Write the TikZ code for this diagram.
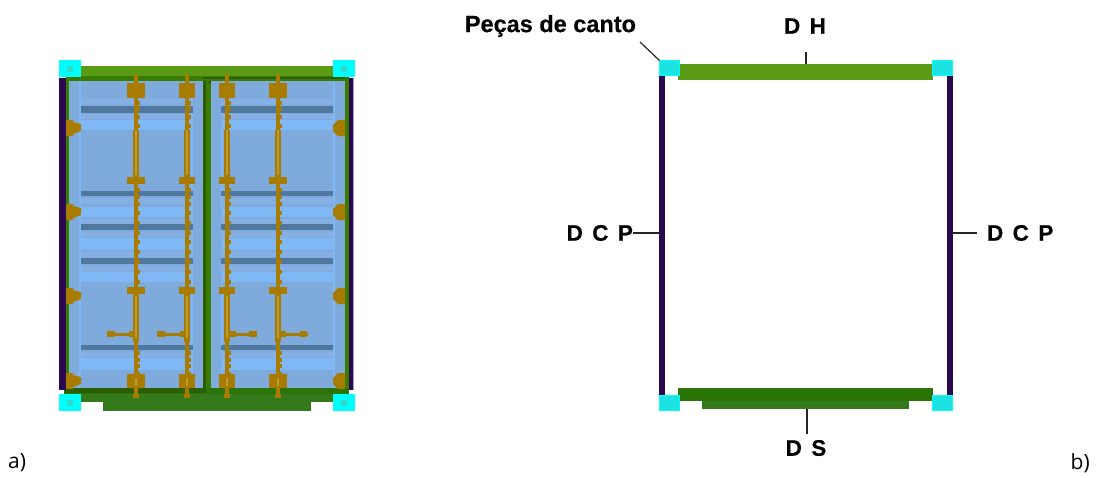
\documentclass[tikz,border=0pt]{standalone}
\usepackage{fontspec}
\setmainfont{Liberation Sans}
\newfontfamily\plainlabel{Open Sans}
\newfontfamily\heavylabel[FakeBold=0.5]{Liberation Sans Bold}
\definecolor{topgreen}{HTML}{5A9A14}
\definecolor{midgreen}{HTML}{3A7C00}
\definecolor{darkgreen}{HTML}{2C5E00}
\definecolor{sillgreen}{HTML}{34791A}
\definecolor{sillgreenb}{HTML}{2A7408}
\definecolor{post}{HTML}{2A0A50}
\definecolor{postedge}{HTML}{B09CC8}
\definecolor{panel}{HTML}{7EAADC}
\definecolor{panellight}{HTML}{80B8F6}
\definecolor{panelmid}{HTML}{86B0E4}
\definecolor{bardark}{HTML}{50789F}
\definecolor{rod}{HTML}{A87C00}
\definecolor{rodlight}{HTML}{BC9A34}
\definecolor{cornerfill}{HTML}{1CE2E2}
\definecolor{purecyan}{HTML}{00FFFF}
\definecolor{cornerspot}{HTML}{30D8C8}
\newcommand{\fillbox}[5]{\fill[#1] (#2,#3) rectangle (#4,#5);}
\tikzset{
  x=1pt,y=-1pt,
  cornerpiece/.style={rectangle,inner sep=0pt,outer sep=0pt,minimum width=20pt,minimum height=15pt,fill=cornerfill,draw=purecyan,line width=1pt},
  postbar/.style={rectangle,inner sep=0pt,outer sep=0pt,minimum width=6pt,minimum height=320pt,fill=post},
  boldlabel/.style={inner sep=0pt,outer sep=0pt,font=\heavylabel\fontsize{23.5}{25}\selectfont},
  spaced/.style={inner sep=0pt,outer sep=0pt,font=\heavylabel\fontsize{22.5}{25}\selectfont,execute at begin node={\spaceskip=0.42em\relax}},
  sidelabel/.style={inner sep=0pt,font=\plainlabel\fontsize{21}{24}\selectfont},
  leader/.style={draw=black!85,line width=1.2pt}
}
\begin{document}
\begin{tikzpicture}
\useasboundingbox (0,0) rectangle (1096,477);
% ---------- a) container doors
\fillbox{panel}{66}{78}{349}{390}
\foreach \xa/\xb/\xc/\xd in {69/81/193/203,211/221/333/345}{
  \fillbox{panellight}{\xa+10}{82}{\xa+12}{388}
  \fillbox{panellight}{\xd-12}{82}{\xd-10}{388}
  \foreach \ya/\yb in {120/130,207/217,238/250,272/282,358/370}{\fillbox{panellight}{\xb}{\ya}{\xc}{\yb}}
  \foreach \ya/\yb in {99/104,114/119,198/204,219/224,232/237,252/257,266/271,352/357}{\fillbox{panelmid}{\xb}{\ya}{\xc}{\yb}}
  \foreach \ya/\yb in {106/112.5,191/196,224/230,258/264,345/350}{\fillbox{bardark}{\xb}{\ya}{\xc}{\yb}}
}
% frames
\fillbox{midgreen}{65.5}{78}{69}{390}
\fillbox{midgreen}{345}{78}{349}{390}
\fillbox{midgreen}{203}{80}{211}{390}
\fillbox{darkgreen}{203}{78}{205.5}{393}
\fillbox{darkgreen}{208.5}{78}{210.5}{84}
% top rail
\fillbox{topgreen}{81}{66}{333}{77}
\fillbox{midgreen}{66}{76}{349}{81}
\fillbox{darkgreen}{203}{76.5}{345}{79}
% sill
\fillbox{sillgreenb}{64}{388}{349}{402}
\fillbox{sillgreen}{103}{396}{311}{411}
\fillbox{sillgreen}{81}{394}{333}{402}
\fillbox{darkgreen}{65}{388}{206}{393}
% posts
\fillbox{post}{59}{78}{65.5}{390}
\fillbox{post}{349}{78}{353}{390}
\fillbox{postedge}{353}{78}{354}{390}
% hinges
\foreach \ya in {120,204,288,373}{
  \fill[rod] (66,\ya) -- (73,\ya) -- (73,\ya+2) -- (81,\ya+4) -- (81,\ya+11) -- (73,\ya+14) -- (73,\ya+16) -- (66,\ya+16) -- cycle;
  \fill[rod] (345,\ya) -- (338,\ya) -- (333,\ya+5) -- (333,\ya+11) -- (338,\ya+16) -- (345,\ya+16) -- cycle;
}
% rods and locks
\foreach \cx/\hw in {136/9,187/8,227/8,278/9}{
  \fillbox{rod}{\cx-2}{74}{\cx+2}{398}
  \fillbox{rod}{\cx-3}{130}{\cx+3}{177}
  \fillbox{rod}{\cx-3}{294}{\cx+3}{342}
  \fillbox{rod}{\cx-3}{394}{\cx+3}{398}
  \fillbox{rod}{\cx-\hw}{83}{\cx+\hw}{98}
  \fillbox{rod}{\cx-\hw}{177}{\cx+\hw}{184}
  \fillbox{rod}{\cx-\hw}{287}{\cx+\hw}{294}
  \fillbox{rod}{\cx-\hw}{374}{\cx+\hw}{388}
  \fillbox{rodlight}{\cx-0.6}{130}{\cx+0.6}{175}
  \fillbox{rodlight}{\cx-0.6}{296}{\cx+0.6}{338}
  \fillbox{rodlight}{\cx-1}{378}{\cx+0.5}{386}
  \foreach \ny in {101,107,115,124,188,195,202,211,221,231,240,250,260,270,280,351,358,364,372}{
    \fillbox{rod}{\cx+1}{\ny}{\cx+4}{\ny+4}
  }
}
% handles
\fillbox{rod}{107}{332.5}{135}{336}
\fillbox{rod}{107}{331}{115}{337}
\fillbox{rod}{129}{331}{135}{337}
\fillbox{rod}{157}{332.5}{186}{336}
\fillbox{rod}{157}{331}{165}{337}
\fillbox{rod}{180}{331}{186}{337}
\fillbox{rod}{230}{332.5}{257}{336}
\fillbox{rod}{249}{331}{257}{337}
\fillbox{rod}{230}{331}{236}{337}
\fillbox{rod}{280}{332.5}{308}{336}
\fillbox{rod}{300}{331}{307}{337}
\fillbox{rod}{280}{331}{286}{337}
% container corner pieces
\foreach \cx/\cy in {70/69,344/69,70/403,344/403}{
  \fill[purecyan] (\cx-11,\cy-9) rectangle (\cx+11,\cy+8);
  \fill[cornerspot] (\cx-3,\cy-3) rectangle (\cx+3,\cy+3);
}
% ---------- b) frame elements
\node[postbar] (postL) at (662,236) {};
\node[postbar] (postR) at (949.5,236) {};
\node[rectangle,inner sep=0pt,outer sep=0pt,minimum width=255pt,minimum height=16pt,fill=topgreen] (barH) at (805.5,72) {};
\node[rectangle,inner sep=0pt,outer sep=0pt,minimum width=255pt,minimum height=13pt,fill=sillgreenb] (barSa) at (805.5,394.5) {};
\node[rectangle,inner sep=0pt,outer sep=0pt,minimum width=207pt,minimum height=8pt,fill=sillgreen] (barS) at (805.5,405) {};
\node[cornerpiece] (cTL) at (669.5,68) {};
\node[cornerpiece] (cTR) at (942.5,68) {};
\node[cornerpiece] (cBL) at (669.5,403) {};
\node[cornerpiece] (cBR) at (942.5,403) {};
% labels
\node[boldlabel,anchor=east] (corner) at (636,26) {Peças de canto};
\node[spaced] (dh) at (805,26) {D H};
\node[spaced] (ds) at (806,448) {D S};
\node[spaced,anchor=east] (dcpL) at (633,233) {D C P};
\node[spaced,anchor=west] (dcpR) at (987,233) {D C P};
\node[sidelabel,anchor=west] (la) at (8,463) {a)};
\node[sidelabel,anchor=east] (lb) at (1090,463) {b)};
% leaders
\coordinate (cornerEnd) at (640,42);
\coordinate (dhEnd) at (806,52);
\coordinate (dsEnd) at (807,434);
\draw[leader] (cornerEnd) -- (cTL.north west);
\draw[leader] (dhEnd) -- (dhEnd |- barH.north);
\draw[leader] (dsEnd) -- (dsEnd |- barS.south);
\draw[leader] (dcpL.east) -- (dcpL.east -| postL.west);
\draw[leader] (dcpR.west) ++(-10,0) -- (postR.east |- dcpR.west);
\end{tikzpicture}
\end{document}
